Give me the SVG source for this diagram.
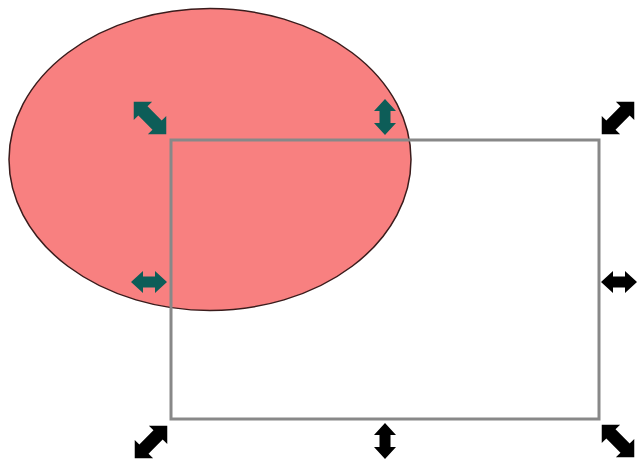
<svg xmlns="http://www.w3.org/2000/svg" xmlns:xlink="http://www.w3.org/1999/xlink" width="638" height="462" viewBox="0 0 638 462">
<style>
.teal{fill:#0d5d58}
.blk{fill:#000}
</style>
<defs>
<path id="arr" d="M-18,0 L-6,-11 L-6,-5.5 L6,-5.5 L6,-11 L18,0 L6,11 L6,5.5 L-6,5.5 L-6,11 Z"/>
<path id="darr" d="M-23,0 L-10,-13 L-10,-6.5 L10,-6.5 L10,-13 L23,0 L10,13 L10,6.5 L-10,6.5 L-10,13 Z"/>
</defs>
<rect width="638" height="462" fill="#fff"/>
<g id="ellipse">
<ellipse cx="210" cy="159.5" rx="201" ry="151" fill="#f88080" stroke="#3a1c1c" stroke-width="1.5"/>
</g>
<g id="rect">
<rect x="171" y="140" width="428" height="279" fill="none" stroke="#888" stroke-width="3"/>
</g>
<g id="handles">
<use xlink:href="#darr" class="teal" transform="translate(150,118) rotate(45)"/>
<use xlink:href="#arr" class="teal" transform="translate(385,117) rotate(90)"/>
<use xlink:href="#darr" class="blk" transform="translate(618,118) rotate(-45)"/>
<use xlink:href="#arr" class="teal" transform="translate(149,282)"/>
<use xlink:href="#arr" class="blk" transform="translate(619,282)"/>
<use xlink:href="#darr" class="blk" transform="translate(151,442) rotate(-45)"/>
<use xlink:href="#arr" class="blk" transform="translate(385,441) rotate(90)"/>
<use xlink:href="#darr" class="blk" transform="translate(618,441) rotate(45)"/>
</g>
</svg>
